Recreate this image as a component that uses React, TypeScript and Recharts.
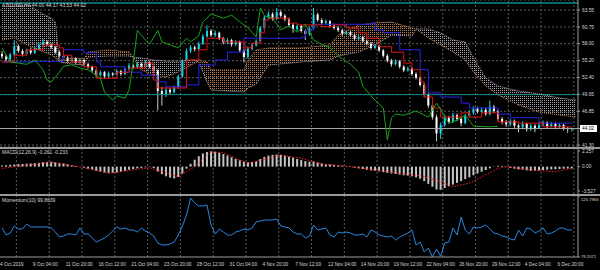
import React from 'react';
import { ComposedChart, Bar, Line, Area, XAxis, YAxis, CartesianGrid, ReferenceLine } from 'recharts';

// ---------- data ----------
const timeLabels = ['4 Oct 2019', '9 Oct 04:00', '11 Oct 20:00', '16 Oct 12:00', '21 Oct 04:00', '23 Oct 20:00', '28 Oct 12:00', '31 Oct 04:00', '4 Nov 20:00', '7 Nov 12:00', '12 Nov 04:00', '14 Nov 20:00', '19 Nov 12:00', '22 Nov 04:00', '26 Nov 20:00', '29 Nov 12:00', '4 Dec 04:00', '6 Dec 20:00'];

const opens = [56.3,55.9,55.4,56.2,57.6,56.8,56.3,56.9,56.5,57.1,
57.8,58.3,57.9,57.4,56.6,56.0,55.7,55.2,55.6,54.9,
55.3,54.6,54.2,53.6,52.8,53.3,52.6,53.1,52.9,53.5,
53.0,53.8,54.4,54.1,54.7,54.3,54.9,54.2,53.6,50.2,
49.6,50.4,50.0,50.8,52.6,55.1,56.8,57.4,57.1,58.0,
59.2,60.1,59.4,59.8,58.9,58.2,58.6,57.9,58.3,56.9,
55.8,57.2,57.8,58.4,60.6,62.3,62.9,62.1,63.2,62.6,
62.0,61.1,60.4,60.9,60.1,59.6,60.5,62.8,61.9,61.4,
61.7,61.0,60.6,60.2,59.6,59.9,59.4,58.8,59.1,58.4,
58.0,57.3,57.6,56.9,56.0,55.2,54.6,55.1,54.2,53.6,
53.9,53.0,52.4,51.2,49.6,47.8,45.9,43.2,44.6,45.8,
45.1,46.2,45.6,44.9,46.1,46.6,47.3,46.8,47.1,46.4,
47.6,46.9,45.6,45.1,44.7,45.3,44.5,44.2,44.8,43.9,
44.5,44.1,44.6,45.0,44.4,44.8,44.3,44.6,44.1,44.0];

const highs = [56.8,56.2,56.5,58.6,57.9,57.1,57.2,57.3,57.5,58.2,
58.8,58.6,58.1,57.6,56.9,56.3,56.0,55.9,55.8,55.6,
55.5,54.9,54.4,53.9,53.6,53.5,53.4,53.3,53.8,53.7,
54.1,54.8,54.6,55.0,54.9,55.3,55.1,54.4,53.8,50.9,
50.8,50.7,51.1,52.9,55.4,57.2,57.8,57.7,58.3,59.6,
61.0,60.4,60.2,60.0,59.1,58.9,58.8,58.6,58.5,57.2,
57.5,58.1,58.7,60.9,62.6,63.3,63.2,63.9,63.5,62.9,
62.3,61.4,61.2,61.1,60.4,60.8,63.9,63.1,62.2,62.0,
61.9,61.3,60.9,60.5,60.2,60.1,59.7,59.4,59.3,58.7,
58.3,57.9,57.8,57.1,56.3,55.5,55.4,55.3,54.5,54.2,
54.1,53.3,52.6,51.5,49.9,48.2,46.3,45.0,46.3,46.1,
46.6,46.5,45.9,46.4,47.0,47.7,47.6,47.5,47.4,48.6,
47.9,47.2,45.9,45.4,45.6,45.5,44.8,45.2,45.0,44.8,
44.7,45.0,45.3,45.2,45.1,45.0,44.9,44.8,44.3,44.17];

const lows = [55.5,54.9,55.1,56.0,56.5,55.9,56.1,56.2,56.3,56.9,
57.5,57.6,57.1,56.3,55.7,55.3,54.9,55.0,54.6,54.7,
54.3,53.9,53.3,52.4,52.6,52.3,52.4,52.6,52.7,52.7,
52.8,53.6,53.8,53.9,54.0,54.1,53.9,53.2,47.0,47.8,
49.2,49.6,49.8,50.6,52.4,54.9,56.5,56.7,56.9,57.8,
59.0,59.1,59.1,58.6,57.9,57.9,57.5,57.6,56.6,54.9,
55.5,56.9,57.5,58.2,60.3,62.0,61.8,61.9,62.3,61.7,
60.8,59.8,60.1,59.8,58.6,59.3,60.3,61.6,61.1,61.1,
60.7,60.3,59.9,59.3,59.4,59.1,58.5,58.6,58.1,57.7,
57.0,57.1,56.6,55.7,54.9,54.2,54.4,53.9,53.3,53.4,
52.7,52.1,50.9,49.2,47.4,45.5,41.9,42.3,44.3,44.8,
44.9,45.2,44.4,44.7,45.8,46.3,46.5,46.5,46.1,46.2,
46.6,45.3,44.7,44.3,44.4,44.1,43.4,43.9,43.5,43.6,
43.4,43.9,44.4,44.1,44.2,43.9,44.1,43.7,43.3,43.53];

const closes = [55.9,55.4,56.2,57.6,56.8,56.3,56.9,56.5,57.1,57.8,
58.3,57.9,57.4,56.6,56.0,55.7,55.2,55.6,54.9,55.3,
54.6,54.2,53.6,52.8,53.3,52.6,53.1,52.9,53.5,53.0,
53.8,54.4,54.1,54.7,54.3,54.9,54.2,53.6,50.2,49.6,
50.4,50.0,50.8,52.6,55.1,56.8,57.4,57.1,58.0,59.2,
60.1,59.4,59.8,58.9,58.2,58.6,57.9,58.3,56.9,55.8,
57.2,57.8,58.4,60.6,62.3,62.9,62.1,63.2,62.6,62.0,
61.1,60.4,60.9,60.1,59.6,60.5,62.8,61.9,61.4,61.7,
61.0,60.6,60.2,59.6,59.9,59.4,58.8,59.1,58.4,58.0,
57.3,57.6,56.9,56.0,55.2,54.6,55.1,54.2,53.6,53.9,
53.0,52.4,51.2,49.6,47.8,45.9,43.2,44.6,45.8,45.1,
46.2,45.6,44.9,46.1,46.6,47.3,46.8,47.1,46.4,47.6,
46.9,45.6,45.1,44.7,45.3,44.5,44.2,44.8,43.9,44.5,
44.1,44.6,45.0,44.4,44.8,44.3,44.6,44.1,44.0,44.02];

// [bar index, value]
const tenkanPts: [number, number][] = [[0,55.0],[3,56.1],[6,57.0],[10,57.8],[14,57.3],[15,56.1],[17,55.0],[20,54.2],[23,52.3],[28,53.3],[31,54.0],[35,54.8],[37,52.0],[38,50.7],[45,55.3],[48,57.0],[50,58.9],[54,58.3],[59,57.3],[61,58.1],[63,59.8],[64,61.9],[65,62.2],[70,61.4],[72,61.1],[78,60.8],[81,61.1],[84,60.6],[87,59.8],[89,58.9],[92,57.5],[95,56.6],[98,54.8],[100,53.7],[102,51.7],[103,49.2],[105,47.4],[107,45.9],[112,46.6],[114,45.9],[117,46.6],[121,45.1],[126,44.9],[132,44.3],[139,44.3]];

const kijunPts: [number, number][] = [[0,55.0],[8,55.1],[15,57.0],[20,56.5],[23,55.0],[24,54.2],[30,53.3],[34,52.8],[38,51.7],[40,50.9],[45,51.2],[48,54.5],[52,55.3],[55,56.6],[59,58.9],[73,59.1],[74,60.25],[76,61.2],[90,61.4],[91,60.25],[93,59.8],[97,57.0],[102,53.7],[104,49.9],[107,49.2],[112,48.2],[114,47.4],[121,46.4],[124,45.8],[131,44.9],[139,44.8]];

const chikouPts: [number, number][] = [[0,57.3],[1,56.1],[2,55.0],[6,54.6],[8,55.3],[10,53.7],[11,52.0],[12,51.7],[14,53.3],[15,54.3],[17,54.5],[19,54.0],[21,53.7],[24,52.3],[25,50.0],[27,48.7],[28,49.4],[30,49.0],[31,50.4],[32,55.0],[33,60.2],[35,58.6],[36,57.9],[38,60.2],[39,58.3],[41,57.8],[43,57.3],[45,58.9],[46,58.3],[48,59.3],[49,61.6],[51,62.9],[54,62.2],[56,62.7],[58,61.6],[60,60.6],[62,59.1],[63,63.9],[64,62.6],[66,62.2],[68,60.3],[70,60.9],[72,59.9],[74,61.2],[76,58.6],[78,57.9],[80,57.3],[82,56.0],[85,54.6],[87,53.3],[88,51.0],[90,49.4],[92,48.0],[93,47.4],[94,42.1],[95,45.8],[96,46.4],[98,46.2],[101,46.9],[104,45.9],[106,48.2],[107,47.1],[109,44.9],[111,45.4],[113,46.2],[115,44.4],[119,44.3],[121,44.4]];

// [bar index, Senkou A, Senkou B]
const cloudPts: [number, number, number][] = [[0,58.60,64.37],[3,58.94,64.37],[7,57.45,64.21],[9,56.96,63.22],[12,56.13,62.23],[13,55.64,61.57],[14,55.31,54.98],[17,55.64,54.65],[20,55.47,54.48],[21,56.63,55.80],[26,56.96,55.97],[31,56.63,55.97],[32,55.64,55.80],[34,53.66,55.64],[37,52.84,55.31],[40,52.51,55.14],[43,53.33,55.14],[47,54.82,55.31],[48,55.31,54.98],[50,54.98,51.68],[51,53.66,50.36],[59,53.66,50.03],[60,55.31,50.69],[62,56.96,51.35],[65,57.29,54.48],[73,57.29,54.98],[80,57.78,55.31],[82,59.43,55.97],[87,61.08,56.63],[91,61.41,57.78],[95,61.57,59.43],[100,60.58,59.26],[101,60.42,60.42],[104,58.94,60.42],[107,57.78,59.76],[110,56.63,58.61],[113,55.31,58.28],[115,53.33,55.64],[118,51.02,52.34],[121,49.54,51.02],[126,47.89,50.20],[131,46.74,49.70],[136,46.24,49.05],[140,45.91,48.72]];

const macdHist = [0.15,0.2,0.25,0.3,0.35,0.38,0.42,0.45,0.5,0.55,
0.62,0.68,0.7,0.62,0.55,0.45,0.35,0.2,0.1,0.02,
-0.15,-0.3,-0.45,-0.6,-0.75,-0.85,-0.9,-0.92,-0.85,-0.75,
-0.6,-0.45,-0.35,-0.25,-0.18,-0.1,-0.05,-0.2,-0.7,-1.1,
-1.4,-1.6,-1.7,-1.5,-1.0,-0.3,0.4,1.0,1.5,1.9,
2.1,2.2,2.15,2.0,1.8,1.6,1.35,1.1,0.9,0.7,
0.6,0.65,0.8,1.1,1.4,1.6,1.7,1.75,1.7,1.6,
1.45,1.3,1.1,0.95,0.8,0.7,0.75,0.6,0.45,0.35,
0.3,0.25,0.2,0.1,0.05,-0.05,-0.15,-0.25,-0.35,-0.45,
-0.55,-0.6,-0.7,-0.8,-0.9,-1.0,-1.05,-1.15,-1.25,-1.3,
-1.4,-1.55,-1.75,-2.1,-2.5,-2.9,-3.3,-3.35,-3.1,-2.85,
-2.6,-2.35,-2.1,-1.8,-1.55,-1.25,-1.0,-0.75,-0.5,-0.25,
0.05,0.12,0.1,-0.05,-0.2,-0.3,-0.4,-0.45,-0.55,-0.6,
-0.6,-0.55,-0.5,-0.45,-0.4,-0.38,-0.35,-0.3,-0.28,-0.261];

const macdSignalPts: [number, number][] = [[0,-0.25],[6,0.2],[12,0.62],[20,-0.16],[26,-0.97],[36,-0.16],[43,-1.46],[47,0.0],[51,2.15],[54,2.0],[60,0.48],[68,1.68],[73,1.2],[78,0.4],[84,0.05],[97,-0.97],[102,-1.3],[107,-2.2],[110,-2.9],[114,-2.4],[121,-0.25],[123,0.0],[129,-0.5],[135,-0.74],[139,-0.233]];

const momentum = [101.35,96.0,97.53,102.88,100.59,100.59,104.41,102.12,102.12,102.12,
102.12,102.12,101.35,98.3,94.48,95.24,96.77,96.77,96.0,101.35,
96.77,96.77,93.71,90.66,92.18,93.71,96.0,99.06,102.12,100.59,
101.35,99.82,99.82,98.3,101.35,99.06,97.53,95.24,89.89,88.36,
88.36,89.13,90.66,96.0,102.88,111.28,124.27,120.45,118.16,118.16,
118.92,103.64,96.77,100.59,98.3,96.0,96.0,98.3,99.06,100.59,
99.82,101.35,105.93,106.7,107.46,107.46,107.46,108.23,102.88,102.12,
101.35,98.3,96.77,96.77,93.71,95.24,103.64,99.82,100.59,101.35,
96.0,94.48,98.3,97.53,98.3,97.53,96.0,96.0,96.77,94.48,
99.82,98.3,96.0,95.24,94.48,95.24,92.18,94.48,96.0,97.53,
99.82,88.36,90.66,83.02,86.07,79.3,85.31,79.96,89.89,90.66,
101.35,96.0,109.75,99.82,96.77,102.12,101.35,102.12,103.64,100.59,
97.53,96.77,95.24,94.48,92.95,92.18,99.82,95.24,101.35,100.59,
97.53,99.06,101.35,96.77,97.53,99.06,101.35,101.35,99.82,99.86];

const priceTicks = [63.55, 60.75, 58.0, 55.2, 52.4, 49.65, 46.85, 44.02, 41.3];
const lastPrice = 44.02;
const hLines = [64.7, 49.6];
const macdTicks = [2.257, 0, -3.527];
const momTicks = [125.7966, 79.2071];
const gridIdx = [4, 12, 20, 28, 36, 44, 52, 60, 68, 76, 84, 92, 100, 108, 116, 124, 132, 140];
const labelIdx = [0, 8, 16, 24, 32, 40, 48, 56, 64, 72, 80, 88, 96, 104, 112, 120, 128, 136];

// ---------- table ----------
const SLOTS = 141;
const rows: any[] = Array.from({ length: SLOTS }, (_, i) => ({ i }));
closes.forEach((c, i) => {
  Object.assign(rows[i], { o: opens[i], h: highs[i], l: lows[i], c, hl: [lows[i], highs[i]], hist: macdHist[i], mom: momentum[i] });
});
tenkanPts.forEach(([i, v]) => { rows[i].tenkan = v; });
kijunPts.forEach(([i, v]) => { rows[i].kijun = v; });
chikouPts.forEach(([i, v]) => { rows[i].chikou = v; });
macdSignalPts.forEach(([i, v]) => { rows[i].sig = v; });
cloudPts.forEach(([i, a, b]) => {
  rows[i].sa = a;
  rows[i].sb = b;
  rows[i].sandy = a >= b ? [b, a] : [a, a];
  rows[i].thistle = b > a ? [a, b] : [a, a];
});

// ---------- styles ----------
const FONT = 'Liberation Sans, Arial, sans-serif';
const TXT = '#d6d6d6';
const AXIS = '#9c9c9c';
const GRID = '#5a5a5a';
const BULL = '#1ed2e4';
const BEAR = '#ffffff';

const Candle = (p: any) => {
  const d = p.payload ?? p;
  if (!d || d.h == null || p.height == null || p.y == null) return <g />;
  const top = Math.min(p.y, p.y + p.height);
  const hgt = Math.abs(p.height);
  const k = hgt / Math.max(d.h - d.l, 1e-6);
  const yO = top + (d.h - d.o) * k;
  const yC = top + (d.h - d.c) * k;
  const bull = d.c >= d.o;
  const cx = p.x + p.width / 2;
  const bTop = Math.min(yO, yC);
  const bH = Math.max(1, Math.abs(yC - yO));
  return (
    <g>
      <line x1={cx} x2={cx} y1={top} y2={top + hgt} stroke={bull ? BULL : '#c8c8c8'} strokeWidth={1} />
      <rect x={cx - 1} y={bTop} width={2} height={bH} fill={bull ? BULL : BEAR} />
    </g>
  );
};

const PriceTick = (p: any) => {
  const v = p.payload.value;
  if (v === lastPrice) {
    return (
      <g>
        <rect x={p.x - 1} y={p.y - 3.5} width={17} height={7} fill="#ffffff" />
        <text x={p.x + 1} y={p.y} dy="0.36em" fontSize={4.8} fontFamily={FONT} fill="#000">{v.toFixed(2)}</text>
      </g>
    );
  }
  return <text x={p.x + 1} y={p.y} dy="0.36em" fontSize={4.8} fontFamily={FONT} fill={TXT}>{v.toFixed(2)}</text>;
};

const MacdTick = (p: any) => {
  const v = p.payload.value;
  const s = v === 0 ? '0.00' : String(v);
  return <text x={p.x + 1} y={p.y} dy="0.36em" fontSize={4.8} fontFamily={FONT} fill={TXT}>{s}</text>;
};

const MomTick = (p: any) => {
  const v = p.payload.value;
  const dy = v === momTicks[0] ? 3.2 : -0.5;
  return <text x={p.x} y={p.y + dy} dy="0.36em" fontSize={4.2} fontFamily={FONT} fill={TXT}>{v.toFixed(4)}</text>;
};

const TimeTick = (p: any) => {
  const idx = labelIdx.indexOf(p.payload.value);
  return <text x={p.x - 2} y={p.y} dy={8.6} fontSize={4.8} fontFamily={FONT} fill={TXT} textAnchor="start">{timeLabels[idx]}</text>;
};

const vGrid = () =>
  gridIdx.map((g) => (
    <ReferenceLine key={'g' + g} x={g} position="start" stroke={GRID} strokeDasharray="2 2" ifOverflow="visible" />
  ));

const M = { top: 0, right: 0, bottom: 0, left: 0 };

export default function App() {
  return (
    <div style={{ position: 'absolute', left: 0, top: 0, width: 600, height: 270, background: '#000', overflow: 'hidden' }}>
      <svg width={0} height={0} style={{ position: 'absolute' }}>
        <defs>
          <pattern id="sandyDots" width="2" height="2" patternUnits="userSpaceOnUse">
            <rect x="0" y="0" width="1" height="1" fill="#b9804f" />
          </pattern>
          <pattern id="thistleDots" width="2" height="2" patternUnits="userSpaceOnUse">
            <rect x="0" y="0" width="1" height="1" fill="#a59ca5" />
          </pattern>
        </defs>
      </svg>

      {/* main pane */}
      <div style={{ position: 'absolute', left: 0, top: 0 }}>
        <ComposedChart width={600} height={147} data={rows} margin={M} barCategoryGap={0}>
          <CartesianGrid vertical={false} stroke={GRID} strokeDasharray="2 2" />
          <XAxis dataKey="i" type="category" scale="band" hide />
          <YAxis orientation="right" width={22} type="number" domain={[40.97, 65.2]} allowDataOverflow ticks={priceTicks} interval={0}
            tick={(p: any) => <PriceTick {...p} />} tickSize={2} tickMargin={1} tickLine={{ stroke: AXIS }} axisLine={{ stroke: AXIS }} />
          {vGrid()}
          <ReferenceLine y={hLines[0]} stroke="#0f8d8d" strokeWidth={1.6} />
          <ReferenceLine y={hLines[1]} stroke="#0f8d8d" strokeWidth={1} />
          <ReferenceLine y={lastPrice} stroke="#a8a8a8" strokeWidth={1} />
          <Area dataKey="sandy" type="linear" connectNulls fill="url(#sandyDots)" fillOpacity={1} stroke="none" dot={false} activeDot={false} isAnimationActive={false} />
          <Area dataKey="thistle" type="linear" connectNulls fill="url(#thistleDots)" fillOpacity={1} stroke="none" dot={false} activeDot={false} isAnimationActive={false} />
          <Line dataKey="sa" type="linear" connectNulls stroke="#c88a58" strokeDasharray="1 1" strokeWidth={1} dot={false} activeDot={false} isAnimationActive={false} />
          <Line dataKey="sb" type="linear" connectNulls stroke="#b9aab9" strokeDasharray="1 1" strokeWidth={1} dot={false} activeDot={false} isAnimationActive={false} />
          <Bar dataKey="hl" barSize={2} shape={(p: any) => <Candle {...p} />} activeBar={false} isAnimationActive={false} />
          <Line dataKey="kijun" type="stepAfter" connectNulls stroke="#2424e6" strokeWidth={1} dot={false} activeDot={false} isAnimationActive={false} />
          <Line dataKey="tenkan" type="stepAfter" connectNulls stroke="#e01212" strokeWidth={1} dot={false} activeDot={false} isAnimationActive={false} />
          <Line dataKey="chikou" type="linear" connectNulls stroke="#17a317" strokeWidth={1} dot={false} activeDot={false} isAnimationActive={false} />
        </ComposedChart>
      </div>

      <div style={{ position: 'absolute', left: 0, top: 147, width: 600, height: 2, background: '#9a9a9a' }} />

      {/* MACD pane */}
      <div style={{ position: 'absolute', left: 0, top: 149 }}>
        <ComposedChart width={600} height={45} data={rows} margin={M} barCategoryGap={0}>
          <XAxis dataKey="i" type="category" scale="band" hide />
          <YAxis orientation="right" width={22} type="number" domain={[-3.961, 2.546]} allowDataOverflow ticks={macdTicks} interval={0}
            tick={(p: any) => <MacdTick {...p} />} tickSize={2} tickMargin={1} tickLine={{ stroke: AXIS }} axisLine={{ stroke: AXIS }} />
          {vGrid()}
          <Bar dataKey="hist" barSize={2} fill="#c4c4c4" activeBar={false} isAnimationActive={false} />
          <Line dataKey="sig" type="linear" connectNulls stroke="#ff2020" strokeDasharray="1.5 1.5" strokeWidth={1} dot={false} activeDot={false} isAnimationActive={false} />
        </ComposedChart>
      </div>

      <div style={{ position: 'absolute', left: 0, top: 194, width: 600, height: 2, background: '#9a9a9a' }} />

      {/* Momentum pane */}
      <div style={{ position: 'absolute', left: 0, top: 196 }}>
        <ComposedChart width={600} height={74} data={rows} margin={M}>
          <XAxis dataKey="i" type="category" scale="band" ticks={labelIdx} interval={0} height={13}
            tick={(p: any) => <TimeTick {...p} />} tickLine={false} tickSize={0} tickMargin={0} axisLine={{ stroke: AXIS }} />
          <YAxis orientation="right" width={22} type="number" domain={[79.2071, 125.7966]} allowDataOverflow ticks={momTicks} interval={0}
            tick={(p: any) => <MomTick {...p} />} tickSize={2} tickMargin={1} tickLine={{ stroke: AXIS }} axisLine={{ stroke: AXIS }} />
          {vGrid()}
          <Line dataKey="mom" type="linear" stroke="#2a88e2" strokeWidth={1} dot={false} activeDot={false} isAnimationActive={false} />
        </ComposedChart>
      </div>

      <svg width={600} height={270} style={{ position: 'absolute', left: 0, top: 0, pointerEvents: 'none' }}>
        <text x={3} y={6.5} fontSize={5} fontFamily={FONT} fill={TXT}>LTCUSD,H4 44.00 44.17 43.53 44.02</text>
        <text x={2} y={154} fontSize={5} fontFamily={FONT} fill={TXT}>MACD(12,26,9) -0.261 -0.233</text>
        <text x={2} y={202} fontSize={5} fontFamily={FONT} fill={TXT}>Momentum(10) 99.8639</text>
      </svg>
    </div>
  );
}
